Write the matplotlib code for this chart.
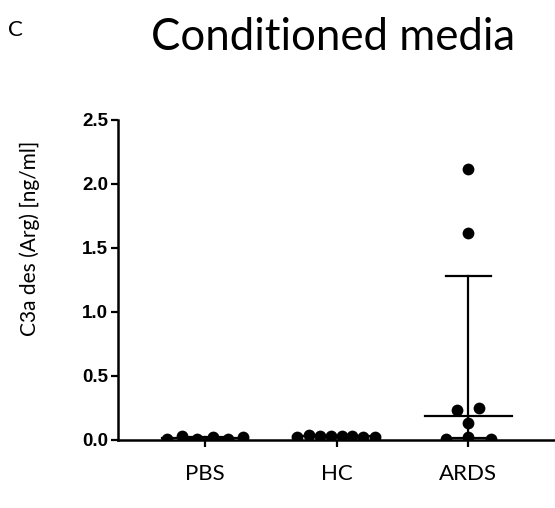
import numpy as np
import matplotlib
matplotlib.use("Agg")
import matplotlib.pyplot as plt

# values (ng/ml)
groups = ['PBS', 'HC', 'ARDS']
pbs = [0.005, 0.03, 0.005, 0.02, 0.005, 0.02]
hc = [0.02, 0.04, 0.03, 0.035, 0.03, 0.035, 0.025, 0.025]
ards = [0.01, 0.02, 0.01, 0.135, 0.235, 0.25, 1.62, 2.12]

# horizontal scatter offsets for each point (beeswarm-like layout)
pbs_dx = [-0.29, -0.175, -0.06, 0.06, 0.175, 0.29]
hc_dx = [-0.30, -0.21, -0.13, -0.04, 0.04, 0.12, 0.20, 0.29]
ards_dx = [-0.17, 0.0, 0.17, 0.0, -0.085, 0.085, 0.0, 0.0]

data = [pbs, hc, ards]
offsets = [pbs_dx, hc_dx, ards_dx]

fig = plt.figure(figsize=(5.55, 5.08), dpi=100)
ax = fig.add_axes([118/555, 1-440/508, 1-118/555, 320/508])

for i, (vals, dx) in enumerate(zip(data, offsets)):
    vals = np.array(vals)
    ax.scatter(i + np.array(dx), vals, s=72, color='black', zorder=3, linewidths=0)
    # median with interquartile range (Prism style)
    q1, med, q3 = np.percentile(vals, [25, 50, 75], method='weibull')
    ax.plot([i - 0.33, i + 0.33], [med, med], color='black', lw=1.6, zorder=2)
    ax.plot([i, i], [q1, q3], color='black', lw=1.6, zorder=2)
    for q in (q1, q3):
        ax.plot([i - 0.17, i + 0.17], [q, q], color='black', lw=1.6, zorder=2)

ax.set_xlim(-0.662, 2.66)
ax.set_ylim(0, 2.5)
ax.set_yticks([0, 0.5, 1.0, 1.5, 2.0, 2.5])
ax.set_yticklabels(['0.0', '0.5', '1.0', '1.5', '2.0', '2.5'],
                   fontfamily='Liberation Sans', fontweight='bold', fontsize=13.5)
ax.set_xticks([0, 1, 2])
ax.set_xticklabels(groups, fontfamily='Lato', fontsize=16)
ax.tick_params(axis='y', direction='out', length=5, width=1.6, pad=2)
ax.tick_params(axis='x', direction='out', length=5, width=1.6, pad=12)

for side in ('top', 'right'):
    ax.spines[side].set_visible(False)
for side in ('left', 'bottom'):
    ax.spines[side].set_linewidth(1.8)
ax.spines['bottom'].set_zorder(1)

# y label sits above the axis centre in the original
fig.text(30/555, 1-238/508, 'C3a des (Arg) [ng/ml]', fontfamily='Lato', fontsize=15,
         rotation=90, ha='center', va='center')

fig.text(333/555, 1-38/508, 'Conditioned media', fontfamily='Lato', fontsize=31.5,
         ha='center', va='center')
fig.text(15/555, 1-30/508, 'C', fontfamily='Lato', fontsize=16, ha='center', va='center')

fig.savefig('out.png', dpi=100)
